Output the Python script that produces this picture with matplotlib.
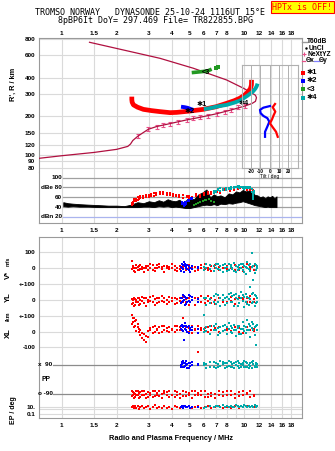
import matplotlib
matplotlib.use('Agg')
import matplotlib.pyplot as plt
from matplotlib.lines import Line2D
from matplotlib.ticker import NullLocator
import numpy as np

plt.rcParams['font.family'] = ['Liberation Sans', 'DejaVu Sans']
plt.rcParams['font.weight'] = 'bold'

W, H = 335, 451
F_LO, F_HI = 0.754, 20.6

RED, BLUE, GREEN, CYAN = '#ff0000', '#0000ff', '#229922', '#00aaaa'
PROF, PINK = '#b01040', '#e8508a'
GRID, SPINE = '#dadada', '#9a9a9a'

# ---------------- data ----------------
grid_freqs = [1, 1.5, 2, 3, 4, 5, 6, 7, 8, 9, 10, 12, 14, 16, 18]
top_ticks = [1, 1.5, 2, 3, 4, 5, 6, 7, 8, 10, 12, 14, 16, 18]
mid_ticks = [1, 1.5, 2, 3, 4, 5, 6, 7, 8, 9, 10, 12, 14, 16, 18]
height_ticks = [80, 90, 100, 120, 150, 200, 300, 400, 600, 800]

# plasma frequency profile (true height)
prof_f = [0.75, 1.0, 1.5, 2.0, 2.3, 2.38, 2.45, 2.62, 2.98, 3.31, 3.92, 4.83, 5.72,
          7.06, 8.5, 10.06, 11.0, 11.5, 11.65, 11.5, 11.2, 9.9, 8.0, 5.25, 3.45, 1.42]
prof_h = [94.5, 99, 105, 111, 117, 122, 130, 141, 159, 167, 176, 188, 197,
          210, 225, 241, 252, 262, 280, 292, 299, 331, 384, 474, 566, 754]
nexyz_f = [2.62, 2.98, 3.31, 3.6, 3.92, 4.35, 4.83, 5.25, 5.72, 6.35, 7.06, 7.83, 8.5, 9.26, 10.06]
nexyz_h = [141, 159, 167, 172, 176, 182, 188, 194, 197, 202, 210, 218, 225, 236, 241]

# echo traces (virtual height)
o_f = [2.42, 2.42, 2.43, 2.47, 2.6, 2.8, 3.1, 3.45, 3.92, 4.26, 5.0, 5.95, 7.0, 8.0,
       8.8, 9.44, 10.0, 10.5, 10.8, 10.93, 10.95]
o_h = [285, 270, 258, 246, 236, 227, 222, 218, 214, 215, 220, 227, 238, 253,
       265, 277, 292, 312, 330, 351, 385]
x_f = [6.0, 6.5, 7.2, 8.0, 8.8, 9.5, 9.9, 10.4, 10.9, 11.2, 11.5, 11.7, 11.8]
x_h = [228, 232, 240, 246, 256, 266, 277, 290, 305, 315, 330, 345, 360]
b_f = [4.5, 4.7, 4.9, 5.1, 5.25]
b_h = [238, 236, 233, 228, 225]
g_f = [5.15, 5.5, 5.95, 6.3, 6.62, 7.0, 7.2]
g_h = [438, 442, 447, 452, 466, 478, 483]

# tilt inset
tilt_b = [0.3, -6.8, -10.4, -9.7, -6.8, -2.5, -0.4, -2.5, -5.0, -5.0]
tilt_b_h = [241, 234, 225, 212, 202, 194, 182, 167, 152, 139]
tilt_r = [5.7, 3.2, 6.0, 3.9, 2.5, 0.3, 3.2, 6.8, 8.6]
tilt_r_h = [250, 236, 218, 202, 190, 177, 165, 152, 139]

# amplitude panel (dB)
blk_f = [1.02, 1.08, 1.15, 1.25, 1.4, 1.6, 1.8, 2.0, 2.2, 2.4, 2.6, 2.8, 3.0, 3.2, 3.4, 3.6, 3.8,
         4.0, 4.2, 4.4, 4.6, 4.8, 5.0, 5.3, 5.6, 5.9, 6.2, 6.5, 6.8, 7.1, 7.4, 7.8, 8.2, 8.6,
         9.0, 9.4, 9.8, 10.2, 10.6, 11.0, 11.4, 11.8, 12.2, 12.6, 13.0, 13.4, 13.8, 14.2, 14.6, 15.0]
blk_hi = [50, 48, 47, 46, 45, 44, 43, 43, 42, 45, 50, 48, 52, 50, 54, 51, 56,
          53, 52, 55, 50, 54, 58, 56, 66, 70, 76, 60, 66, 62, 64, 60, 68, 66,
          72, 70, 75, 72, 74, 70, 65, 64, 60, 62, 58, 62, 60, 63, 58, 62]
blk_lo = [42, 41, 42, 41, 41, 40, 40, 40, 40, 40, 40, 41, 41, 40, 42, 41, 42,
          40, 41, 40, 39, 38, 38, 40, 42, 44, 45, 44, 46, 44, 47, 46, 48, 47,
          49, 50, 52, 50, 48, 46, 44, 43, 42, 41, 40, 41, 40, 40, 40, 40]
dbr_f = [2.42, 2.45, 2.5, 2.55, 2.6, 2.65, 2.7, 2.8, 2.9, 3.0,
         3.1, 3.2, 3.3, 3.45, 3.6, 3.75, 3.9, 4.05, 4.2, 4.4,
         4.6, 4.83, 5.0, 5.2, 5.45, 5.72, 6.0, 6.3, 6.6, 7.06,
         7.4, 7.8, 8.34, 8.8, 9.2, 9.46, 9.9, 10.3, 10.8, 11.2]
dbr_a = [44, 50, 53, 57, 55, 60, 58, 62, 60, 64,
         66, 63, 68, 70, 66, 68, 64, 66, 62, 60,
         64, 63, 58, 60, 62, 64, 68, 66, 70, 70,
         72, 74, 76, 78, 80, 79, 76, 78, 75, 74]
dbr_b = [48, 46, 56, 52, 60, 56, 63, 58, 65, 60,
         62, 68, 64, 66, 70, 64, 68, 62, 65, 64,
         58, 60, 62, 56, 66, 60, 64, 70, 66, 73,
         68, 76, 72, 74, 76, 82, 80, 74, 78, 70]
dbc_f = [6.8, 7.0, 7.2, 7.4, 7.6, 7.9, 8.2, 8.5, 8.8, 9.0, 9.2,
         9.4, 9.6, 9.8, 10.0, 10.2, 10.5, 10.8, 11.0, 11.1, 11.2, 11.3]
dbc_a = [68, 72, 74, 73, 76, 75, 78, 77, 80, 82, 81,
         83, 80, 78, 80, 79, 81, 78, 76, 66, 62, 72]
dbc_b = [72, 70, 76, 78, 74, 78, 76, 80, 78, 80, 84,
         79, 82, 81, 77, 82, 78, 80, 70, 60, 56, 68]
dbb_f = [4.55, 4.6, 4.65, 4.7, 4.75, 4.8, 4.9, 5.0, 5.1, 5.2]
dbb_a = [50, 46, 44, 48, 45, 50, 52, 55, 57, 58]
dbb_b = [47, 49, 42, 45, 50, 47, 55, 52, 58, 56]
dbg_f = [5.3, 5.45, 5.6, 5.75, 5.9, 6.05, 6.2, 6.4, 6.6, 6.8]
dbg_a = [45, 47, 48, 50, 52, 54, 55, 56, 53, 50]

# lower panel: V* (m/s), YL, XL (km), PP (deg), EP (deg)
red_f = [2.42, 2.45, 2.48, 2.52, 2.56, 2.6, 2.65, 2.7, 2.76, 2.82,
         2.9, 2.98, 3.06, 3.15, 3.24, 3.33, 3.43, 3.53, 3.64, 3.75,
         3.87, 4.0, 4.15, 4.3, 4.46, 4.62, 4.8, 4.98, 5.17, 5.37,
         5.58, 5.8, 6.05, 6.3, 6.6, 6.9, 7.25, 7.6, 8.0, 8.4,
         8.85, 9.3, 9.8, 10.3, 10.8, 11.3]
red_vs_a = [45, 10, -15, 5, 20, -10, 15, -5, 10, -25,
            0, 15, 30, -10, 5, 20, 10, -5, 15, 0,
            10, 25, -10, 5, 15, -5, 10, 20, 0, -15,
            10, 5, 25, -10, 15, 5, 10, -20, 15, 0,
            20, -10, 10, 25, -5, 15]
red_vs_b = [-5, 15, 0, -20, 5, 10, -10, 20, -5, 5,
            15, -10, 5, 20, -15, 0, 25, 10, -20, 15,
            -5, 0, 15, -15, -5, 10, -10, 5, 15, 10,
            -10, 20, -5, 5, -15, 20, -10, 5, -5, 15,
            -10, 5, -15, 0, 10, -10]
red_yl_a = [5, -20, 10, -30, 0, -15, 15, -25, -5, 10,
            -35, 0, 20, -10, 5, -20, 10, 25, -15, 0,
            -10, 15, -25, 5, -5, 20, -15, 10, 0, -30,
            15, -10, 5, 25, -20, 0, 10, -15, 20, -5,
            -25, 10, 0, 15, -10, 5]
red_yl_b = [-25, 0, -40, 5, -10, 15, -30, 0, 20, -20,
            10, -15, -5, 25, -30, 15, -10, -5, 10, -25,
            20, -5, 10, -20, 15, -10, 5, -30, 20, 10,
            -15, 25, -20, -5, 10, -25, 15, 0, -10, 20,
            5, -20, 15, -10, 25, -15]
red_xl_a = [105, 60, 90, 40, 75, 30, 0, -20, -40, -10,
            -60, -30, 10, 30, 0, 20, -5, 35, 15, 25,
            0, 20, 40, 10, 30, 85, 15, 25, -5, 20,
            35, 10, 25, 0, 40, 15, 30, 5, 20, 35,
            10, 25, -5, 30, 15, 20]
red_xl_b = [50, 85, 30, 70, 5, 50, 20, 10, -5, -50,
            -25, 5, 25, -5, 35, 10, 30, 0, 40, 5,
            30, 10, 0, 35, 15, 5, 30, 0, 35, 10,
            -127, 25, 5, 30, 10, 25, 0, 35, 15, 5,
            30, 0, 20, 10, 35, 5]
pp_red_a = [-70, -100, -85, -110, -75, -95, -115, -80, -100, -70,
            -90, -110, -85, -75, -105, -95, -70, -115, -85, -100,
            -75, -95, -110, -80, -90, -70, -105, -85, -115, -75,
            -95, -100, -70, -110, -85, -90, -75, -105, -95, -70,
            -115, -80, -100, -90, -75, -105]
pp_red_b = [-105, -80, -115, -90, -100, -70, -85, -110, -75, -95,
            -115, -80, -100, -110, -75, -85, -105, -90, -70, -80,
            -110, -100, -75, -95, -115, -105, -80, -95, -70, -100,
            -85, -75, -110, -90, -105, -115, -95, -80, -70, -100,
            -90, -105, -75, -85, -110, -95]
ep_red = [8, 15, 4, 20, 6, 12, 3, 10, 18, 5,
          9, 14, 3, 7, 22, 5, 11, 4, 16, 6,
          10, 3, 13, 8, 5, 18, 7, 12, 4, 9,
          15, 6, 11, 20, 5, 8, 14, 4, 10, 6,
          12, 5, 9, 16, 7, 11]

blue_f = [4.5, 4.56, 4.62, 4.68, 4.74, 4.8, 4.87, 4.95, 5.05, 5.15, 5.55]
blue_vs_a = [10, 25, -5, 41, 15, 0, 20, -10, 5, 15, 0]
blue_vs_b = [-15, 5, 20, -20, 30, 10, -5, 15, -20, -5, 10]
blue_yl_a = [10, -15, 30, 0, 20, -25, 15, -5, 25, 0, -10]
blue_yl_b = [-20, 15, -5, 25, -30, 10, -10, 30, -15, 20, 5]
blue_xl_a = [20, 45, 5, 35, 54, 15, 30, -5, 25, 10, 20]
blue_xl_b = [40, 10, 30, -50, 20, 40, 0, 35, 10, 30, -5]
pp_blue_a = [90, 110, 75, 100, 85, 115, 95, 70, 105, 90, 95]
pp_blue_b = [75, 95, 115, 80, 105, 90, 70, 100, 85, 110, 90]
ep_blue = [8, 15, 5, 12, 20, 7, 10, 16, 6, 11, 9]

cyan_f = [6.0, 6.2, 6.5, 6.8, 7.0, 7.2, 7.4, 7.6, 7.8, 8.0,
          8.2, 8.4, 8.6, 8.8, 9.0, 9.2, 9.4, 9.6, 9.8, 10.0,
          10.2, 10.4, 10.6, 10.8, 11.0, 11.2, 11.4, 11.6, 11.8]
cyan_vs_a = [10, 25, -5, 15, 0, 30, -10, 20, 5, -15,
             25, 10, -5, 35, 15, -10, 20, 0, 30, -20,
             10, 40, -5, 25, 94, 15, -30, 20, 5]
cyan_vs_b = [-10, 5, 20, -15, 25, -5, 15, -20, 30, 10,
             -10, 20, 5, -15, -25, 10, -5, 25, -10, 15,
             -35, 5, 20, -15, 10, -73, 30, -10, 15]
cyan_yl_a = [-94, 10, -20, 25, 40, -10, 15, 30, -30, 20,
             5, 45, -15, 30, 10, -40, 25, 50, -5, 20,
             35, -25, 15, 83, 40, -10, 30, -20, 10]
cyan_yl_b = [15, -30, 5, -10, -25, 30, -40, 0, 15, -20,
             35, -15, 25, -35, 40, 5, -20, 10, 30, -45,
             -10, 20, -30, 5, -20, 45, -40, 25, -15]
cyan_xl_a = [20, 5, 35, 10, 50, 25, -5, 40, 15, 30,
             55, 0, 25, 45, 10, 35, -15, 20, 60, 5,
             30, 75, 15, 40, 25, 50, -20, 35, 10]
cyan_xl_b = [0, 30, -10, 40, 15, -20, 30, 5, 45, -10,
             20, 35, -5, 15, -25, 25, 40, -10, 20, 35,
             -5, 15, 50, -30, 60, 10, 30, -81, 45]
pp_cyan_a = [90, 70, 110, 80, 100, 75, 115, 95, 70, 105,
             85, 110, 75, 100, 90, 115, 70, 95, 105, 80,
             110, 75, 90, 100, 70, 115, 85, 105, 95]
pp_cyan_b = [105, 95, 80, 110, 70, 95, 85, 110, 100, 75,
             115, 80, 95, 70, 110, 85, 100, 75, 90, 115,
             80, 105, 70, 85, 110, 95, 75, 90, 80]
ep_cyan = [6, 10, 15, 8, 20, 12, 7, 25, 10, 14,
           9, 18, 11, 7, 22, 13, 9, 16, 8, 28,
           12, 10, 19, 7, 15, 11, 24, 9, 14]

# row centres of the stacked lower panel (panel units = pixels from bottom)
ROW_VS, ROW_YL, ROW_XL, ROW_PP = 149.7, 118.0, 86.0, 38.7
ROW_SCALE = 0.16


def row(vals, centre):
    return centre + ROW_SCALE * np.asarray(vals, dtype=float)


def ep_row(vals):
    return 11.3 + 3.8 * (np.log10(np.asarray(vals, dtype=float)) - 1)


def box(l, t, r, b):
    return [l / W, 1 - b / H, (r - l) / W, (b - t) / H]


def flabel(v):
    return '1.5' if v == 1.5 else str(int(v))


def freq_axis(ax, ticks, top=False):
    ax.set_xscale('log')
    ax.set_xlim(F_LO, F_HI)
    ax.xaxis.set_minor_locator(NullLocator())
    if ticks:
        ax.set_xticks(ticks)
        ax.set_xticklabels([flabel(t) for t in ticks])
    else:
        ax.set_xticks([])
    if top:
        ax.xaxis.set_ticks_position('top')
    for f in grid_freqs:
        ax.axvline(f, color=GRID, lw=0.8, zorder=0)
    for s in ax.spines.values():
        s.set_color(SPINE)
        s.set_linewidth(0.8)


fig = plt.figure(figsize=(W / 100, H / 100), dpi=100)

# ---------------- height panel ----------------
ax_h = fig.add_axes(box(39.3, 38, 301.7, 172))
freq_axis(ax_h, top_ticks, top=True)
ax_h.tick_params(axis='x', length=0, pad=1.6, labelsize=4.6)
ax_h.set_yscale('log')
ax_h.set_ylim(74, 814)
ax_h.yaxis.set_minor_locator(NullLocator())
ax_h.set_yticks(height_ticks)
ax_h.set_yticklabels([str(v) for v in height_ticks])
ax_h.tick_params(axis='y', length=0, pad=3.0, labelsize=4.6)
for v in height_ticks:
    ax_h.axhline(v, color=GRID, lw=0.8, zorder=0)
ax_h.spines['bottom'].set_visible(False)

ax_h.errorbar(nexyz_f, nexyz_h, yerr=[np.array(nexyz_h) * 0.035, np.array(nexyz_h) * 0.035],
              fmt='none', ecolor=PINK, elinewidth=0.8, capsize=1.2, capthick=0.8, zorder=3)
ax_h.plot(prof_f, prof_h, color=PROF, lw=0.9, zorder=4)
ax_h.plot(o_f, o_h, color=RED, lw=3.4, zorder=5, solid_capstyle='butt')
ax_h.plot(b_f, b_h, color=BLUE, lw=2.8, zorder=6, solid_capstyle='butt')
ax_h.plot(x_f, x_h, color=CYAN, lw=2.8, zorder=6, solid_capstyle='butt')
ax_h.plot(g_f[:5], g_h[:5], color=GREEN, lw=2.6, zorder=6, solid_capstyle='butt')
ax_h.plot(g_f[5:], g_h[5:], 's', color=GREEN, ms=2.2, mew=0, zorder=6)
for f, h, s in [(5.87, 246, '✱1'), (5.04, 220, '✱2'), (6.18, 436, '<3'), (9.86, 253, '✱4')]:
    ax_h.text(f, h, s, ha='center', va='center', fontsize=5.2, color='black', zorder=8)
ax_h.set_ylabel('')

# ---------------- amplitude panel ----------------
ax_db = fig.add_axes(box(39.3, 172, 301.7, 222.7))
freq_axis(ax_db, mid_ticks)
ax_db.tick_params(axis='x', length=0, pad=3.5, labelsize=4.6)
ax_db.set_ylim(8.2, 111.6)
ax_db.set_yticks([])
ax_db.spines['top'].set_visible(False)
lab_x = (62 - 39.3) / 262.4
for v, lab, c in [(100, '100', '#a0a0a0'), (80, 'dBe 80', '#a0a0a0'), (60, '60', '#a0a0a0'),
                  (40, '40', '#a0a0a0'), (20, 'dBn 20', '#aab4ee')]:
    ax_db.axhline(v, xmin=0.09, color=c, lw=0.9, zorder=1)
    ax_db.text(lab_x, v, lab, transform=ax_db.get_yaxis_transform(), ha='right', va='center',
               fontsize=4.6)
ax_db.fill_between(blk_f, blk_lo, blk_hi, color='black', lw=0.6, edgecolor='black', zorder=2)
for fs, vals, c in [(dbr_f, dbr_a, RED), (dbr_f, dbr_b, RED), (dbb_f, dbb_a, BLUE),
                    (dbb_f, dbb_b, BLUE), (dbg_f, dbg_a, GREEN),
                    (dbc_f, dbc_a, CYAN), (dbc_f, dbc_b, CYAN)]:
    ax_db.plot(fs, vals, 's', color=c, ms=2.0, mew=0, zorder=3)

# ---------------- tilt inset ----------------
ax_t = fig.add_axes(box(241.7, 65, 297.7, 167.7))
ax_t.patch.set_alpha(0)
ax_t.set_xlim(-30, 30)
ax_t.set_yscale('log')
ax_t.set_ylim(80, 502)
ax_t.yaxis.set_minor_locator(NullLocator())
ax_t.set_yticks([])
ax_t.set_xticks([-20, -10, 0, 10, 20])
ax_t.set_xticklabels(['-20', '-10', '0', '10', '20'])
ax_t.tick_params(axis='x', length=0, pad=0.8, labelsize=3.4)
ax_t.set_xlabel('Tilt / deg', fontsize=3.6, labelpad=0.3)
for v in [-20, -10, 0, 10, 20]:
    ax_t.axvline(v, color='#b0b0b0', lw=0.7, zorder=0)
for s in ax_t.spines.values():
    s.set_color('#b0b0b0')
    s.set_linewidth(0.8)
ax_t.plot(tilt_b, tilt_b_h, color=BLUE, lw=1.6)
ax_t.plot(tilt_r, tilt_r_h, color=RED, lw=1.6)

# ---------------- lower panel ----------------
ax_lo = fig.add_axes(box(39.3, 237, 301.7, 418))
freq_axis(ax_lo, top_ticks)
ax_lo.tick_params(axis='x', length=0, pad=3.3, labelsize=4.6)
ax_lo.set_ylim(0, 181)
lo_ticks = [165.7, 149.7, 133.7, 118.0, 102.0, 86.0, 70.7, 11.3, 3.7]
ax_lo.set_yticks(lo_ticks)
ax_lo.set_yticklabels(['100', '0', '+-100', '0', '+-100', '0', '-100', '10.', '0.1'])
ax_lo.tick_params(axis='y', length=0, pad=3.0, labelsize=4.6)
for v in [165.7, 149.7, 133.7, 118.0, 102.0, 86.0, 70.7, 11.3, 9.0, 3.7]:
    ax_lo.axhline(v, color=GRID, lw=0.8, zorder=0)
for v, lab in [(53.0, 'x  90'), (24.3, 'o -90')]:
    ax_lo.axhline(v, xmin=0.053, color='#8c8c8c', lw=0.9, zorder=1)
    ax_lo.text(0.05, v, lab, transform=ax_lo.get_yaxis_transform(), ha='right', va='center',
               fontsize=4.6)
ax_lo.text(0.026, ROW_PP, 'PP', transform=ax_lo.get_yaxis_transform(), ha='center',
           va='center', fontsize=4.8)

groups = [
    (red_f, RED, [red_vs_a, red_vs_b], [red_yl_a, red_yl_b], [red_xl_a, red_xl_b],
     [pp_red_a, pp_red_b], ep_red),
    (blue_f, BLUE, [blue_vs_a, blue_vs_b], [blue_yl_a, blue_yl_b], [blue_xl_a, blue_xl_b],
     [pp_blue_a, pp_blue_b], ep_blue),
    (cyan_f, CYAN, [cyan_vs_a, cyan_vs_b], [cyan_yl_a, cyan_yl_b], [cyan_xl_a, cyan_xl_b],
     [pp_cyan_a, pp_cyan_b], ep_cyan),
]
for fs, c, vs, yl, xl, pp, ep in groups:
    for vals, centre in [(v, ROW_VS) for v in vs] + [(v, ROW_YL) for v in yl] + \
            [(v, ROW_XL) for v in xl] + [(v, ROW_PP) for v in pp]:
        ax_lo.plot(fs, row(vals, centre), 's', color=c, ms=2.0, mew=0, zorder=3)
    ax_lo.plot(fs, ep_row(ep), 's', color=c, ms=2.0, mew=0, zorder=3)


# ---------------- figure texts ----------------
def ftext(x, y, s, **kw):
    fig.text(x / W, 1 - y / H, s, **kw)


def fline(x0, x1, y, **kw):
    fig.add_artist(Line2D([x0 / W, x1 / W], [1 - y / H, 1 - y / H],
                          transform=fig.transFigure, **kw))


mono = dict(family='DejaVu Sans Mono', fontweight='normal', fontsize=6.0, ha='center', va='center')
ftext(150, 12.3, 'TROMSO NORWAY   DYNASONDE 25-10-24 1116UT 15\u00b0E', **mono)
ftext(155.8, 20.3, '8pBP6It DoY= 297.469 File= TR822855.BPG', **mono)
ftext(302.5, 7.0, 'HPTx is OFF!', color=RED, family='DejaVu Sans Mono', fontweight='normal',
      fontsize=6.0, ha='center', va='center',
      bbox=dict(boxstyle='square,pad=0.15', fc='#ffff00', ec=RED, lw=0.8))

ftext(13, 84, "R', R / km", rotation=90, ha='center', va='center', fontsize=5.3)
ftext(8, 275, 'V*', rotation=90, ha='center', va='center', fontsize=5.5)
ftext(8, 261, 'm/s', rotation=90, ha='center', va='center', fontsize=4.0)
ftext(8, 297.5, 'YL', rotation=90, ha='center', va='center', fontsize=5.5)
ftext(8, 316, '/km', rotation=90, ha='center', va='center', fontsize=4.0)
ftext(8, 333, 'XL', rotation=90, ha='center', va='center', fontsize=5.5)
ftext(13.3, 410, 'EP / deg', rotation=90, ha='center', va='center', fontsize=5.0)
ftext(170.8, 439, 'Radio and Plasma Frequency / MHz', ha='center', va='center', fontsize=5.3)

# legend to the right of the height panel
leg = dict(fontsize=4.8, ha='left', va='center')
fline(302.3, 306.5, 41.7, color='#999999', lw=1.0)
ftext(307.3, 41.7, 'T60dB', **leg)
fig.add_artist(Line2D([306 / W], [1 - 48.3 / H], transform=fig.transFigure, marker='.',
                      color='black', ms=1.5, ls='none'))
ftext(308.5, 48.3, 'UnCl', **leg)
fig.add_artist(Line2D([303.5 / W], [1 - 54.3 / H], transform=fig.transFigure, marker='+',
                      color=PINK, ms=3.0, mew=0.8, ls='none'))
ftext(307.3, 54.3, 'NeXtYZ', **leg)
fline(301.7, 305.3, 61, color=PINK, lw=0.9)
ftext(305.5, 61, '\u0398x', **leg)
fline(313.5, 318.5, 61, color='#8080ff', lw=0.9)
ftext(319, 61, '\u0398y', **leg)
for y, c, s in [(72.7, RED, '✱1'), (80.7, BLUE, '✱2'), (89.3, GREEN, '<3'), (97.7, CYAN, '✱4')]:
    fig.add_artist(Line2D([302.6 / W], [1 - y / H], transform=fig.transFigure, marker='s',
                          color=c, ms=2.3, mew=0, ls='none'))
    ftext(306.3, y, s, fontsize=5.4, ha='left', va='center')

fig.savefig('out.png', dpi=100)
